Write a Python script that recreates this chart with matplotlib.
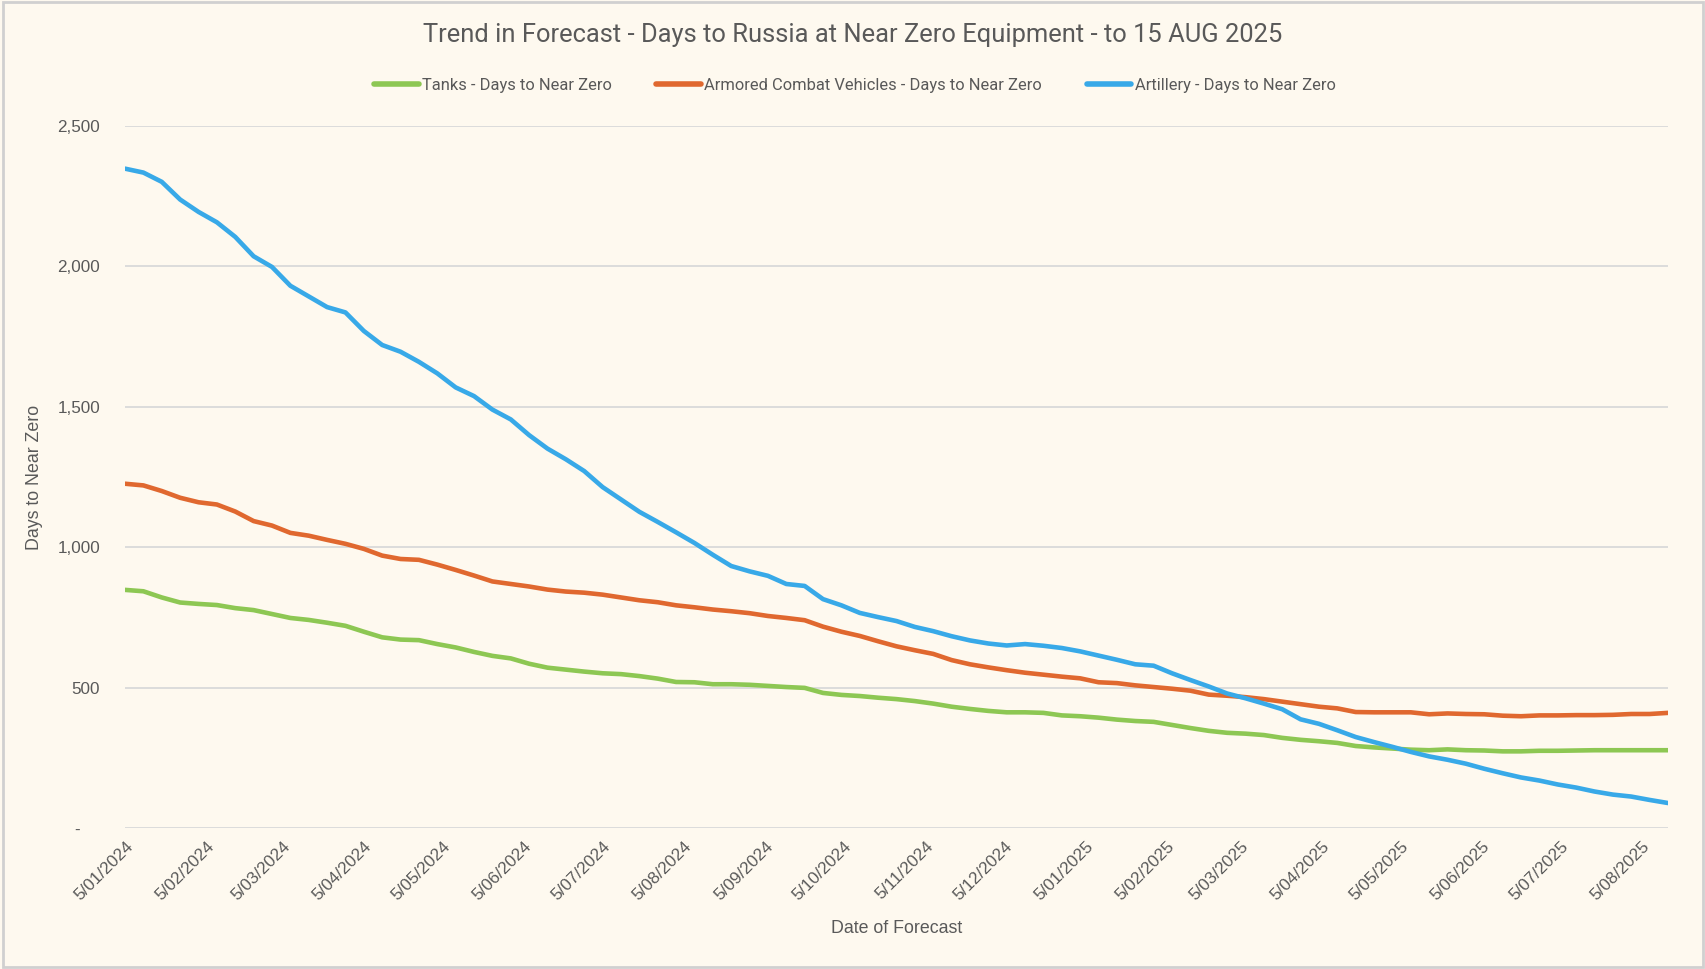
import matplotlib
matplotlib.use("Agg")
import matplotlib.pyplot as plt
import matplotlib.dates as mdates
from matplotlib.ticker import FuncFormatter
from matplotlib.patches import Rectangle
import pandas as pd

start_date = "2024-01-05"
n_weeks = 85

tanks = [848, 843, 821, 803, 798, 794, 783, 776, 762, 748, 741, 731, 720, 699, 679, 671, 669,
         655, 643, 627, 613, 604, 585, 571, 564, 557, 551, 548, 541, 532, 520, 519, 512, 512,
         510, 506, 502, 499, 481, 474, 470, 464, 459, 452, 443, 432, 424, 417, 412, 412, 410,
         401, 398, 393, 386, 381, 378, 367, 356, 346, 339, 336, 331, 321, 314, 309, 303, 292,
         287, 283, 279, 277, 280, 277, 276, 273, 273, 275, 275, 276, 277, 277, 277, 277, 277]

acv = [1226, 1220, 1200, 1176, 1160, 1152, 1127, 1093, 1077, 1051, 1041, 1026, 1012, 994, 970,
       958, 955, 938, 919, 899, 878, 869, 860, 849, 842, 838, 831, 821, 811, 804, 793, 786, 778,
       772, 765, 755, 748, 740, 717, 699, 684, 665, 647, 633, 620, 598, 583, 572, 562, 553, 546,
       539, 533, 519, 516, 508, 502, 496, 489, 475, 471, 466, 459, 450, 441, 432, 426, 413, 412,
       412, 412, 405, 408, 406, 405, 400, 398, 401, 401, 402, 402, 403, 406, 406, 410]

artillery = [2348, 2334, 2301, 2238, 2194, 2157, 2105, 2036, 1998, 1931, 1893, 1855, 1836, 1770,
             1720, 1696, 1660, 1619, 1569, 1538, 1490, 1455, 1399, 1351, 1313, 1271, 1214, 1170,
             1126, 1090, 1053, 1015, 973, 933, 914, 898, 869, 862, 815, 793, 766, 751, 737, 716,
             701, 683, 668, 657, 650, 655, 649, 641, 629, 614, 599, 583, 578, 551, 527, 504, 479,
             462, 443, 423, 387, 371, 348, 324, 306, 289, 271, 255, 243, 229, 211, 195, 180, 169,
             155, 144, 130, 119, 112, 100, 89]

series_labels = ["Tanks - Days to Near Zero",
                 "Armored Combat Vehicles - Days to Near Zero",
                 "Artillery - Days to Near Zero"]
title = "Trend in Forecast - Days to Russia at Near Zero Equipment - to 15 AUG 2025"
x_title = "Date of Forecast"
y_title = "Days to Near Zero"
y_ticks = [0, 500, 1000, 1500, 2000, 2500]

dates = pd.date_range(start_date, periods=n_weeks, freq="7D")
tick_dates = [pd.Timestamp(start_date) + pd.DateOffset(months=i) for i in range(20)]

BG = "#FEF9EF"
TXT = "#595959"
GRID = "#D9D9D9"
colors = ["#8DC753", "#E0682F", "#38A9E8"]

narrow = ["Liberation Sans Narrow", "Roboto", "DejaVu Sans"]
regular = ["Liberation Sans", "DejaVu Sans"]

fig = plt.figure(figsize=(17.06, 9.69), dpi=100, facecolor=BG)
ax = fig.add_axes([0.0733, 0.1455, 0.9777 - 0.0733, 0.870 - 0.1455])
ax.set_facecolor(BG)

for vals, c, lab in zip([tanks, acv, artillery], colors, series_labels):
    ax.plot(dates, vals, color=c, lw=3.3, label=lab, solid_capstyle="round", solid_joinstyle="round")

ax.set_ylim(0, 2500)
ax.set_yticks(y_ticks)
ax.yaxis.set_major_formatter(FuncFormatter(lambda v, p: "-    " if v == 0 else f"{v:,.0f}"))
ax.set_xlim(dates[0], dates[-1])
ax.set_xticks(tick_dates)
ax.xaxis.set_major_formatter(FuncFormatter(
    lambda v, p: (lambda d: f"{d.day}/{d.month:02d}/{d.year}")(mdates.num2date(v))))

ax.grid(axis="y", color=GRID, lw=1.3)
ax.set_axisbelow(True)
for s in ax.spines.values():
    s.set_visible(False)
ax.tick_params(axis="both", length=0, colors=TXT, labelsize=12.3)
ax.tick_params(axis="y", pad=18)
ax.tick_params(axis="x", pad=8)
for t in ax.get_xticklabels():
    t.set_rotation(45)
    t.set_ha("right")
    t.set_rotation_mode("anchor")
    t.set_family(regular)
for t in ax.get_yticklabels():
    t.set_family(regular)

ax.set_xlabel(x_title, color=TXT, fontsize=12.8, family=regular, labelpad=12)
ax.set_ylabel(y_title, color=TXT, fontsize=12.8, family=regular, labelpad=10)

fig.text(0.5, 0.964, title, ha="center", va="center", fontsize=18.4, color=TXT, family=narrow)

leg = fig.legend(loc="center", bbox_to_anchor=(0.501, 0.912), ncol=3, frameon=False,
                 handlelength=2.7, handletextpad=0.2, columnspacing=2.7,
                 prop={"family": narrow, "size": 11.9})
for t in leg.get_texts():
    t.set_color(TXT)
for l in leg.get_lines():
    l.set_linewidth(4)

fig.patches.append(Rectangle((0.0015, 0.002), 0.997, 0.996, transform=fig.transFigure,
                             fill=False, edgecolor="#D0D0D0", lw=2))

fig.savefig("out.png", dpi=100, facecolor=BG)
